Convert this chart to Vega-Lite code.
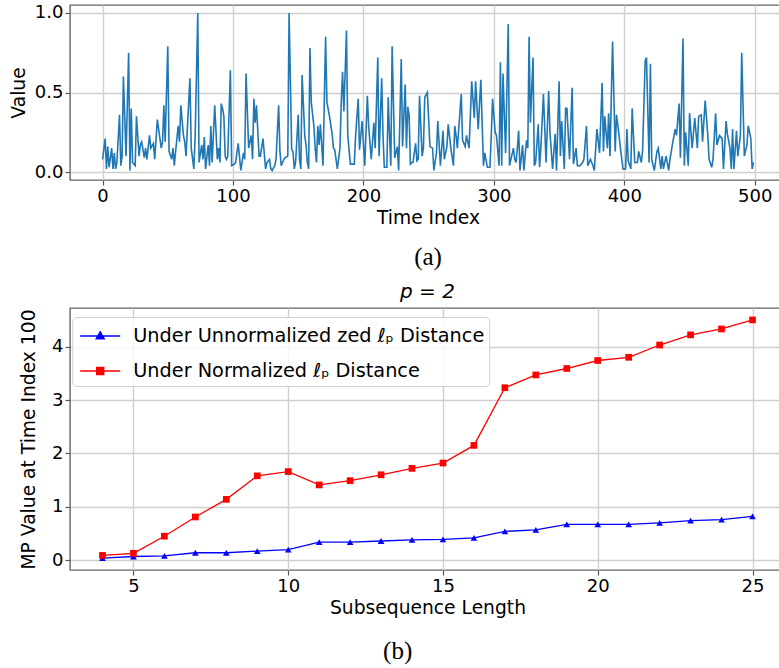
{
  "$schema": "https://vega.github.io/schema/vega-lite/v6.json",
  "padding": {"left": 8, "top": 3, "right": 0, "bottom": 0},
  "background": "white",
  "config": {
    "font": "DejaVu Sans",
    "view": {"stroke": "#666666", "strokeWidth": 1.4},
    "axis": {
      "domain": false,
      "grid": true,
      "gridColor": "#cfcfcf",
      "gridWidth": 1.4,
      "ticks": true,
      "tickColor": "#555555",
      "tickSize": 5,
      "tickWidth": 1.2,
      "labelFont": "DejaVu Sans",
      "labelFontSize": 18,
      "labelColor": "#000000",
      "labelPadding": 2,
      "titleFont": "DejaVu Sans",
      "titleFontSize": 18.7,
      "titleFontWeight": "normal",
      "titleColor": "#000000",
      "labelFlush": false
    }
  },
  "datasets": {
    "series": [
      {"t":0,"v":0.08},{"t":2,"v":0.21},{"t":3,"v":0.02},{"t":4,"v":0.16},{"t":5,"v":0.03},{"t":7,"v":0.15},{"t":8,"v":0.02},{"t":9,"v":0.12},{"t":10,"v":0.02},{"t":11,"v":0.06},{"t":13,"v":0.36},{"t":14,"v":0.04},{"t":15,"v":0.10},{"t":16,"v":0.60},{"t":18,"v":0.10},{"t":20,"v":0.75},{"t":21,"v":0.01},{"t":22,"v":0.40},{"t":23,"v":0.06},{"t":25,"v":0.04},{"t":26,"v":0.35},{"t":28,"v":0.10},{"t":29,"v":0.17},{"t":30,"v":0.19},{"t":32,"v":0.09},{"t":33,"v":0.15},{"t":34,"v":0.08},{"t":36,"v":0.23},{"t":37,"v":0.15},{"t":39,"v":0.18},{"t":40,"v":0.08},{"t":42,"v":0.33},{"t":43,"v":0.27},{"t":45,"v":0.15},{"t":46,"v":0.19},{"t":47,"v":0.42},{"t":48,"v":0.19},{"t":50,"v":0.79},{"t":51,"v":0.13},{"t":53,"v":0.08},{"t":54,"v":0.15},{"t":55,"v":0.04},{"t":56,"v":0.13},{"t":58,"v":0.29},{"t":59,"v":0.19},{"t":60,"v":0.42},{"t":62,"v":0.23},{"t":63,"v":0.19},{"t":64,"v":0.10},{"t":65,"v":0.27},{"t":67,"v":0.59},{"t":68,"v":0.15},{"t":70,"v":0.02},{"t":71,"v":0.23},{"t":73,"v":1.0},{"t":74,"v":0.06},{"t":76,"v":0.17},{"t":77,"v":0.08},{"t":78,"v":0.22},{"t":79,"v":0.02},{"t":81,"v":0.17},{"t":82,"v":0.04},{"t":83,"v":0.29},{"t":84,"v":0.06},{"t":86,"v":0.42},{"t":88,"v":0.08},{"t":89,"v":0.15},{"t":90,"v":0.06},{"t":91,"v":0.43},{"t":92,"v":0.40},{"t":93,"v":0.35},{"t":94,"v":0.10},{"t":95,"v":0.08},{"t":96,"v":0.10},{"t":98,"v":0.64},{"t":99,"v":0.04},{"t":101,"v":0.05},{"t":102,"v":0.06},{"t":104,"v":0.18},{"t":106,"v":0.01},{"t":108,"v":0.12},{"t":109,"v":0.08},{"t":110,"v":0.62},{"t":112,"v":0.15},{"t":114,"v":0.23},{"t":115,"v":0.08},{"t":116,"v":0.46},{"t":117,"v":0.31},{"t":118,"v":0.42},{"t":120,"v":0.10},{"t":121,"v":0.10},{"t":123,"v":0.21},{"t":125,"v":0.02},{"t":126,"v":0.06},{"t":128,"v":0.08},{"t":129,"v":0.02},{"t":130,"v":0.01},{"t":132,"v":0.04},{"t":133,"v":0.08},{"t":135,"v":0.42},{"t":136,"v":0.13},{"t":137,"v":0.04},{"t":139,"v":0.08},{"t":140,"v":0.09},{"t":142,"v":0.10},{"t":143,"v":1.0},{"t":145,"v":0.14},{"t":146,"v":0.13},{"t":147,"v":0.02},{"t":148,"v":0.06},{"t":150,"v":0.36},{"t":151,"v":0.08},{"t":152,"v":0.02},{"t":153,"v":0.61},{"t":155,"v":0.23},{"t":156,"v":0.17},{"t":157,"v":0.06},{"t":158,"v":0.02},{"t":159,"v":0.78},{"t":160,"v":0.44},{"t":162,"v":0.29},{"t":163,"v":0.15},{"t":164,"v":0.06},{"t":165,"v":0.29},{"t":166,"v":0.17},{"t":167,"v":0.30},{"t":169,"v":0.04},{"t":171,"v":0.85},{"t":172,"v":0.44},{"t":174,"v":0.35},{"t":176,"v":0.24},{"t":177,"v":0.15},{"t":178,"v":0.14},{"t":179,"v":0.08},{"t":180,"v":0.02},{"t":182,"v":0.15},{"t":183,"v":0.44},{"t":184,"v":0.63},{"t":185,"v":0.38},{"t":187,"v":0.89},{"t":188,"v":0.23},{"t":190,"v":0.05},{"t":191,"v":0.05},{"t":193,"v":0.05},{"t":194,"v":0.23},{"t":196,"v":0.46},{"t":197,"v":0.14},{"t":199,"v":0.32},{"t":201,"v":0.04},{"t":203,"v":0.48},{"t":204,"v":0.29},{"t":206,"v":0.08},{"t":208,"v":0.31},{"t":209,"v":0.15},{"t":211,"v":0.72},{"t":212,"v":0.10},{"t":214,"v":0.59},{"t":215,"v":0.23},{"t":216,"v":0.03},{"t":218,"v":0.03},{"t":219,"v":0.47},{"t":220,"v":0.23},{"t":221,"v":0.04},{"t":222,"v":0.79},{"t":224,"v":0.09},{"t":226,"v":0.16},{"t":227,"v":0.01},{"t":229,"v":0.71},{"t":230,"v":0.16},{"t":232,"v":0.55},{"t":233,"v":0.15},{"t":234,"v":0.41},{"t":235,"v":0.36},{"t":236,"v":0.05},{"t":237,"v":0.06},{"t":238,"v":0.06},{"t":240,"v":0.18},{"t":241,"v":0.07},{"t":242,"v":0.08},{"t":243,"v":0.48},{"t":245,"v":0.10},{"t":246,"v":0.15},{"t":247,"v":0.47},{"t":249,"v":0.50},{"t":251,"v":0.16},{"t":253,"v":0.15},{"t":254,"v":0.01},{"t":256,"v":0.12},{"t":257,"v":0.32},{"t":259,"v":0.04},{"t":261,"v":0.26},{"t":262,"v":0.08},{"t":264,"v":0.16},{"t":265,"v":0.30},{"t":267,"v":0.15},{"t":269,"v":0.04},{"t":270,"v":0.29},{"t":271,"v":0.23},{"t":272,"v":0.15},{"t":275,"v":0.49},{"t":276,"v":0.20},{"t":278,"v":0.16},{"t":279,"v":0.23},{"t":281,"v":0.15},{"t":283,"v":0.57},{"t":285,"v":0.34},{"t":286,"v":0.57},{"t":288,"v":0.27},{"t":290,"v":0.58},{"t":292,"v":0.04},{"t":293,"v":0.12},{"t":295,"v":0.03},{"t":297,"v":0.03},{"t":298,"v":0.23},{"t":299,"v":0.46},{"t":301,"v":0.25},{"t":302,"v":0.23},{"t":304,"v":0.04},{"t":305,"v":0.69},{"t":306,"v":0.04},{"t":307,"v":0.62},{"t":309,"v":0.12},{"t":311,"v":0.93},{"t":312,"v":0.04},{"t":315,"v":0.15},{"t":316,"v":0.08},{"t":317,"v":0.06},{"t":318,"v":0.15},{"t":319,"v":0.26},{"t":320,"v":0.01},{"t":322,"v":0.17},{"t":323,"v":0.01},{"t":325,"v":0.20},{"t":326,"v":0.15},{"t":327,"v":0.85},{"t":328,"v":0.31},{"t":330,"v":0.72},{"t":331,"v":0.04},{"t":332,"v":0.06},{"t":334,"v":0.30},{"t":335,"v":0.03},{"t":336,"v":0.15},{"t":338,"v":0.49},{"t":340,"v":0.06},{"t":342,"v":0.51},{"t":343,"v":0.25},{"t":345,"v":0.02},{"t":347,"v":0.24},{"t":348,"v":0.01},{"t":350,"v":0.57},{"t":351,"v":0.10},{"t":352,"v":0.32},{"t":354,"v":0.02},{"t":355,"v":0.40},{"t":356,"v":0.40},{"t":358,"v":0.08},{"t":360,"v":0.53},{"t":361,"v":0.05},{"t":363,"v":0.15},{"t":364,"v":0.04},{"t":366,"v":0.04},{"t":368,"v":0.06},{"t":369,"v":0.08},{"t":371,"v":0.29},{"t":372,"v":0.04},{"t":374,"v":0.08},{"t":376,"v":0.04},{"t":377,"v":0.01},{"t":379,"v":0.27},{"t":381,"v":0.12},{"t":383,"v":0.56},{"t":384,"v":0.13},{"t":385,"v":0.35},{"t":387,"v":0.15},{"t":388,"v":0.37},{"t":389,"v":0.10},{"t":391,"v":0.82},{"t":393,"v":0.13},{"t":394,"v":0.36},{"t":396,"v":0.23},{"t":397,"v":0.15},{"t":399,"v":0.02},{"t":401,"v":0.02},{"t":402,"v":0.27},{"t":403,"v":0.07},{"t":405,"v":0.02},{"t":406,"v":0.40},{"t":408,"v":0.06},{"t":410,"v":0.06},{"t":411,"v":0.13},{"t":413,"v":0.06},{"t":414,"v":0.13},{"t":416,"v":0.70},{"t":417,"v":0.72},{"t":419,"v":0.06},{"t":420,"v":0.68},{"t":421,"v":0.08},{"t":423,"v":0.01},{"t":425,"v":0.13},{"t":426,"v":0.15},{"t":428,"v":0.02},{"t":429,"v":0.10},{"t":430,"v":0.02},{"t":432,"v":0.10},{"t":434,"v":0.01},{"t":435,"v":0.08},{"t":437,"v":0.18},{"t":439,"v":0.27},{"t":440,"v":0.23},{"t":442,"v":0.43},{"t":443,"v":0.09},{"t":445,"v":0.84},{"t":446,"v":0.04},{"t":447,"v":0.25},{"t":449,"v":0.04},{"t":450,"v":0.37},{"t":452,"v":0.15},{"t":454,"v":0.34},{"t":456,"v":0.15},{"t":457,"v":0.35},{"t":459,"v":0.36},{"t":460,"v":0.19},{"t":462,"v":0.45},{"t":464,"v":0.23},{"t":465,"v":0.08},{"t":467,"v":0.03},{"t":468,"v":0.08},{"t":470,"v":0.37},{"t":471,"v":0.17},{"t":473,"v":0.23},{"t":475,"v":0.21},{"t":476,"v":0.02},{"t":478,"v":0.32},{"t":479,"v":0.24},{"t":481,"v":0.15},{"t":482,"v":0.02},{"t":483,"v":0.27},{"t":484,"v":0.02},{"t":486,"v":0.26},{"t":487,"v":0.10},{"t":489,"v":0.23},{"t":490,"v":0.75},{"t":492,"v":0.10},{"t":494,"v":0.17},{"t":495,"v":0.29},{"t":497,"v":0.21},{"t":498,"v":0.02},{"t":499,"v":0.06}
    ],
    "mp": [
      {"len":4,"mp":0.04,"dist":"Under Unnormalized zed ℓₚ Distance"},
      {"len":5,"mp":0.07,"dist":"Under Unnormalized zed ℓₚ Distance"},
      {"len":6,"mp":0.08,"dist":"Under Unnormalized zed ℓₚ Distance"},
      {"len":7,"mp":0.14,"dist":"Under Unnormalized zed ℓₚ Distance"},
      {"len":8,"mp":0.14,"dist":"Under Unnormalized zed ℓₚ Distance"},
      {"len":9,"mp":0.17,"dist":"Under Unnormalized zed ℓₚ Distance"},
      {"len":10,"mp":0.20,"dist":"Under Unnormalized zed ℓₚ Distance"},
      {"len":11,"mp":0.34,"dist":"Under Unnormalized zed ℓₚ Distance"},
      {"len":12,"mp":0.34,"dist":"Under Unnormalized zed ℓₚ Distance"},
      {"len":13,"mp":0.36,"dist":"Under Unnormalized zed ℓₚ Distance"},
      {"len":14,"mp":0.38,"dist":"Under Unnormalized zed ℓₚ Distance"},
      {"len":15,"mp":0.39,"dist":"Under Unnormalized zed ℓₚ Distance"},
      {"len":16,"mp":0.42,"dist":"Under Unnormalized zed ℓₚ Distance"},
      {"len":17,"mp":0.54,"dist":"Under Unnormalized zed ℓₚ Distance"},
      {"len":18,"mp":0.57,"dist":"Under Unnormalized zed ℓₚ Distance"},
      {"len":19,"mp":0.67,"dist":"Under Unnormalized zed ℓₚ Distance"},
      {"len":20,"mp":0.67,"dist":"Under Unnormalized zed ℓₚ Distance"},
      {"len":21,"mp":0.67,"dist":"Under Unnormalized zed ℓₚ Distance"},
      {"len":22,"mp":0.70,"dist":"Under Unnormalized zed ℓₚ Distance"},
      {"len":23,"mp":0.74,"dist":"Under Unnormalized zed ℓₚ Distance"},
      {"len":24,"mp":0.76,"dist":"Under Unnormalized zed ℓₚ Distance"},
      {"len":25,"mp":0.82,"dist":"Under Unnormalized zed ℓₚ Distance"},
      {"len":4,"mp":0.09,"dist":"Under Normalized ℓₚ Distance"},
      {"len":5,"mp":0.13,"dist":"Under Normalized ℓₚ Distance"},
      {"len":6,"mp":0.45,"dist":"Under Normalized ℓₚ Distance"},
      {"len":7,"mp":0.81,"dist":"Under Normalized ℓₚ Distance"},
      {"len":8,"mp":1.14,"dist":"Under Normalized ℓₚ Distance"},
      {"len":9,"mp":1.58,"dist":"Under Normalized ℓₚ Distance"},
      {"len":10,"mp":1.66,"dist":"Under Normalized ℓₚ Distance"},
      {"len":11,"mp":1.41,"dist":"Under Normalized ℓₚ Distance"},
      {"len":12,"mp":1.49,"dist":"Under Normalized ℓₚ Distance"},
      {"len":13,"mp":1.60,"dist":"Under Normalized ℓₚ Distance"},
      {"len":14,"mp":1.72,"dist":"Under Normalized ℓₚ Distance"},
      {"len":15,"mp":1.82,"dist":"Under Normalized ℓₚ Distance"},
      {"len":16,"mp":2.15,"dist":"Under Normalized ℓₚ Distance"},
      {"len":17,"mp":3.23,"dist":"Under Normalized ℓₚ Distance"},
      {"len":18,"mp":3.47,"dist":"Under Normalized ℓₚ Distance"},
      {"len":19,"mp":3.59,"dist":"Under Normalized ℓₚ Distance"},
      {"len":20,"mp":3.74,"dist":"Under Normalized ℓₚ Distance"},
      {"len":21,"mp":3.80,"dist":"Under Normalized ℓₚ Distance"},
      {"len":22,"mp":4.03,"dist":"Under Normalized ℓₚ Distance"},
      {"len":23,"mp":4.22,"dist":"Under Normalized ℓₚ Distance"},
      {"len":24,"mp":4.33,"dist":"Under Normalized ℓₚ Distance"},
      {"len":25,"mp":4.50,"dist":"Under Normalized ℓₚ Distance"}
    ]
  },
  "title": {"text": "(b)", "orient": "bottom", "anchor": "middle", "font": "Liberation Serif", "fontSize": 25, "fontWeight": "normal", "color": "#000000", "offset": 22},
  "spacing": 10,
  "resolve": {"scale": {"color": "independent"}, "legend": {"color": "independent"}},
  "vconcat": [
    {
      "width": 716,
      "height": 175,
      "data": {"name": "series"},
      "title": {"text": "(a)", "orient": "bottom", "anchor": "middle", "font": "Liberation Serif", "fontSize": 25, "fontWeight": "normal", "color": "#000000", "offset": 18},
      "mark": {"type": "line", "color": "#1f77b4", "strokeWidth": 1.6, "clip": true},
      "encoding": {
        "x": {"field": "t", "type": "quantitative", "scale": {"domain": [-24.95, 523.95], "nice": false, "zero": false}, "axis": {"values": [0, 100, 200, 300, 400, 500], "title": "Time Index", "titlePadding": 3}},
        "y": {"field": "v", "type": "quantitative", "scale": {"domain": [-0.05, 1.05], "nice": false, "zero": false}, "axis": {"values": [0, 0.5, 1], "format": ".1f", "title": "Value", "titlePadding": 6}}
      }
    },
    {
      "width": 715,
      "height": 262,
      "data": {"name": "mp"},
      "title": {"text": "p = 2", "fontStyle": "italic", "font": "DejaVu Sans", "fontSize": 20, "fontWeight": "normal", "color": "#000000", "frame": "group", "anchor": "middle", "offset": 6},
      "encoding": {
        "x": {"field": "len", "type": "quantitative", "scale": {"domain": [2.95, 26.05], "nice": false, "zero": false}, "axis": {"values": [5, 10, 15, 20, 25], "title": "Subsequence Length", "titlePadding": 3}},
        "y": {"field": "mp", "type": "quantitative", "scale": {"domain": [-0.183, 4.723], "nice": false, "zero": false}, "axis": {"values": [0, 1, 2, 3, 4], "title": "MP Value at Time Index 100", "titlePadding": 13}},
        "color": {
          "field": "dist", "type": "nominal",
          "scale": {"domain": ["Under Unnormalized zed ℓₚ Distance", "Under Normalized ℓₚ Distance"], "range": ["#0000ff", "#ff0000"]},
          "legend": {
            "title": null,
            "orient": "none",
            "legendX": 2.2,
            "legendY": 9,
            "labelFont": "DejaVu Sans",
            "labelFontSize": 19.3,
            "labelColor": "#000000",
            "labelLimit": 0,
            "labelOffset": 27,
            "symbolSize": 784,
            "rowPadding": 9,
            "padding": 4,
            "fillColor": "rgba(255,255,255,0.8)",
            "strokeColor": "#d0d0d0",
            "cornerRadius": 4,
            "encode": {
              "symbols": {
                "update": {
                  "shape": {"signal": "datum.value === 'Under Normalized ℓₚ Distance' ? 'M-0.786,0H2.071M0.393,-0.25H0.893V0.25H0.393Z' : 'M-0.786,0H2.071M0.643,-0.3L0.93,0.2H0.357Z'"},
                  "fill": {"signal": "datum.value === 'Under Normalized ℓₚ Distance' ? '#ff0000' : '#0000ff'"},
                  "stroke": {"signal": "datum.value === 'Under Normalized ℓₚ Distance' ? '#ff0000' : '#0000ff'"},
                  "strokeWidth": {"value": 1.4},
                  "opacity": {"value": 1},
                  "fillOpacity": {"value": 1}
                }
              }
            }
          }
        }
      },
      "layer": [
        {"mark": {"type": "line", "strokeWidth": 1.3}},
        {
          "transform": [{"filter": {"field": "dist", "equal": "Under Unnormalized zed ℓₚ Distance"}}],
          "mark": {"type": "point", "filled": true, "size": 45, "opacity": 1, "shape": "triangle-up"}
        },
        {
          "transform": [{"filter": {"field": "dist", "equal": "Under Normalized ℓₚ Distance"}}],
          "mark": {"type": "point", "filled": true, "size": 45, "opacity": 1, "shape": "square"}
        }
      ]
    }
  ]
}
